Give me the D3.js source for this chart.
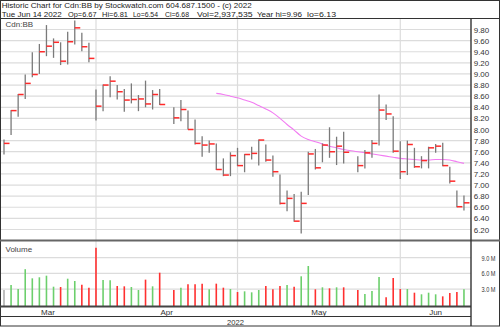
<!DOCTYPE html>
<html>
<head>
<meta charset="utf-8">
<script src="https://cdn.jsdelivr.net/npm/d3@7"></script>
<style>
  body { margin: 0; background: #fff; }
  svg { display: block; font-family: "Liberation Sans", Arial, sans-serif; }
</style>
</head>
<body>
<svg id="canvas" width="500" height="327"></svg>
<script>

// trading window, weekdays only; holidays keep an empty slot
var startDate = "2022-03-15";
var endDate = "2022-06-14";
var holidays = ["2022-04-15", "2022-05-23"];

var highs = [7.82, 8.35, 8.64, 8.99, 9.39, 9.54, 9.88, 9.64, 9.57, 9.76, 9.96, 9.74, 9.56,
  8.72, 8.81, 8.96, 8.80, 8.73, 8.83, 8.62, 8.88, 8.71, 8.73,
  8.40, 8.53, 8.34, 8.18, 7.88, 7.80, 7.75, 7.48, 7.59, 7.67,
  7.56, 7.69, 7.82, 7.73, 7.53, 7.19, 6.90, 6.84, 6.88, 7.60, 7.65, 7.75, 8.04, 7.87, 7.96,
  7.52, 7.63, 7.81, 8.63, 8.45, 8.24,
  7.79, 7.80, 7.67, 7.52, 7.69, 7.74, 7.76, 7.33, 6.90, 6.81];

var lows = [7.55, 7.90, 8.23, 8.55, 8.94, 9.00, 9.32, 9.29, 9.16, 9.17, 9.53, 9.41, 9.21,
  8.16, 8.33, 8.58, 8.54, 8.32, 8.47, 8.33, 8.40, 8.36, 8.44,
  8.10, 8.15, 8.00, 7.73, 7.51, 7.58, 7.27, 7.16, 7.16, 7.34,
  7.23, 7.46, 7.35, 7.42, 7.15, 6.65, 6.53, 6.34, 6.13, 6.82, 7.28, 7.41, 7.49, 7.36, 7.39,
  7.23, 7.30, 7.49, 7.71, 8.17, 7.58,
  7.11, 7.18, 7.31, 7.30, 7.30, 7.58, 7.34, 7.03, 6.60, 6.54];

var closes = [7.75, 8.34, 8.63, 8.83, 8.99, 9.40, 9.50, 9.57, 9.23, 9.58, 9.83, 9.49, 9.28,
  8.42, 8.80, 8.87, 8.68, 8.53, 8.54, 8.55, 8.46, 8.63, 8.45,
  8.21, 8.36, 8.00, 7.75, 7.72, 7.74, 7.28, 7.18, 7.53, 7.35,
  7.55, 7.57, 7.81, 7.45, 7.24, 6.67, 6.76, 6.35, 6.67, 7.56, 7.31, 7.72, 7.60, 7.70, 7.59,
  7.35, 7.58, 7.75, 8.35, 8.28, 7.61,
  7.24, 7.73, 7.33, 7.44, 7.67, 7.70, 7.35, 7.07, 6.61, 6.68];

// volume in millions of shares
var volumes = [2.80, 3.77, 3.00, 6.80, 5.05, 5.25, 5.56, 3.45, 3.39, 4.98, 4.54, 3.83, 3.26,
  10.9, 4.73, 4.67, 3.58, 3.52, 3.39, 2.82, 4.80, 3.52, 6.13,
  2.82, 3.26, 3.90, 3.90, 4.03, 2.95, 4.03, 3.26, 3.00, 2.43,
  2.56, 2.37, 2.82, 3.58, 2.95, 3.58, 3.77, 3.45, 5.44, 7.41, 2.95, 3.33, 3.14, 3.33, 3.33,
  2.82, 2.05, 2.62, 5.30, 1.42, 5.11,
  3.00, 3.00, 2.30, 1.99, 2.30, 1.99, 1.60, 2.24, 2.43, 2.94];

// moving average, starts on this day
var maStart = "2022-04-26";
var maValues = [8.65, 8.63, 8.60, 8.57,
  8.53, 8.49, 8.43, 8.37, 8.30, 8.20, 8.09, 7.99, 7.88, 7.82, 7.78, 7.74, 7.70, 7.67, 7.64,
  7.60, 7.58, 7.56, 7.54, 7.52, 7.50,
  7.48, 7.47, 7.46, 7.45, 7.45, 7.46, 7.46, 7.45, 7.42, 7.39];

var priceTicks = [6.2, 6.4, 6.6, 6.8, 7.0, 7.2, 7.4, 7.6, 7.8, 8.0, 8.2, 8.4, 8.6, 8.8, 9.0, 9.2, 9.4, 9.6, 9.8];
var volumeTicks = [3, 6, 9];
var monthStarts = ["2022-04-01", "2022-05-01", "2022-06-01"];
var monthNames = ["Mar", "Apr", "May", "Jun"];
var yearLabel = "2022";

var symbol = "Cdn:BB";
var titleLine = "Historic Chart for Cdn:BB by Stockwatch.com 604.687.1500 - (c) 2022";
var quoteParts = ["Tue Jun 14 2022", "Op=6.67", "Hi=6.81", "Lo=6.54", "Cl=6.68", "Vol=2,937,535", "Year hi=9.96", "lo=6.13"];

// ---- layout
var W = 500, H = 327;
var plotRight = 471;
var quoteX = [1.7, 68, 102, 133, 165, 197, 257, 307];
var quoteW = [60, 28.5, 26, 25, 24, 55.5, 45, 29];

var fmtDay = d3.timeFormat("%Y-%m-%d");
var parseDay = d3.timeParse("%Y-%m-%d");

var slots = d3.timeDay.range(parseDay(startDate), d3.timeDay.offset(parseDay(endDate), 1))
  .filter(function(d) { return d.getDay() != 0 && d.getDay() != 6; })
  .map(fmtDay);
var tradingDays = slots.filter(function(d) { return holidays.indexOf(d) < 0; });

var bars = tradingDays.map(function(d, i) {
  return {date: d, high: highs[i], low: lows[i], close: closes[i], volume: volumes[i],
    prev: i > 0 ? closes[i - 1] : null};
});
var maIndex = tradingDays.indexOf(maStart);
var ma = maValues.map(function(v, i) { return {date: tradingDays[maIndex + i], value: v}; });

var x = d3.scalePoint().domain(slots).range([0.46, 467.5]).padding(0.5);
var y = d3.scaleLinear().domain([6.0, 10.0]).range([240.6, 18.4]);
var yv = d3.scaleLinear().domain([0, 12.2]).range([304.7, 241]);

var svg = d3.select("#canvas");

// month gridlines fall on the first weekday at or before the 1st
function gridDay(s) {
  var d = parseDay(s);
  while (d.getDay() == 0 || d.getDay() == 6) d = d3.timeDay.offset(d, -1);
  return fmtDay(d);
}
var monthX = monthStarts.map(function(s) { return x(gridDay(s)); });

var grid = svg.append("g").attr("stroke", "#dcdcdc").attr("stroke-width", 1.2);

grid.selectAll(".hp").data(priceTicks).enter().append("line")
  .attr("x1", 0).attr("x2", plotRight)
  .attr("y1", function(d) { return y(d); }).attr("y2", function(d) { return y(d); });

grid.selectAll(".hv").data(volumeTicks).enter().append("line")
  .attr("x1", 0).attr("x2", plotRight)
  .attr("y1", function(d) { return yv(d); }).attr("y2", function(d) { return yv(d); });

grid.selectAll(".vm").data(monthX).enter().append("line")
  .attr("x1", function(d) { return d; }).attr("x2", function(d) { return d; })
  .attr("y1", 19).attr("y2", 306);

// moving average
svg.append("path")
  .datum(ma)
  .attr("fill", "none")
  .attr("stroke", "#f27cf2")
  .attr("stroke-width", 1.1)
  .attr("d", d3.line()
    .x(function(d) { return x(d.date); })
    .y(function(d) { return y(d.value); })
    .curve(d3.curveMonotoneX));

// high-low bars with close tick
var bar = svg.append("g").selectAll("g").data(bars).enter().append("g");

bar.append("line")
  .attr("x1", function(d) { return x(d.date); })
  .attr("x2", function(d) { return x(d.date); })
  .attr("y1", function(d) { return y(d.high); })
  .attr("y2", function(d) { return y(d.low); })
  .attr("stroke", "#7a7a7a")
  .attr("stroke-width", 1.3);

bar.append("line")
  .attr("x1", function(d) { return x(d.date); })
  .attr("x2", function(d) { return x(d.date) + 5.5; })
  .attr("y1", function(d) { return y(d.close); })
  .attr("y2", function(d) { return y(d.close); })
  .attr("stroke", "#ff2a2a")
  .attr("stroke-width", 1.5);

// volume
svg.append("g").selectAll("line").data(bars).enter().append("line")
  .attr("x1", function(d) { return x(d.date); })
  .attr("x2", function(d) { return x(d.date); })
  .attr("y1", 306)
  .attr("y2", function(d) { return yv(d.volume); })
  .attr("stroke-width", 1.6)
  .attr("stroke", function(d) {
    if (d.prev == null) return "#b0b0b0";
    return d.close >= d.prev ? "#6ccf6c" : "#ff3030";
  });

// frame
var frame = svg.append("g").attr("fill", "none");
frame.append("rect").attr("x", 0.5).attr("y", 0.5).attr("width", W - 1).attr("height", H - 1.5)
  .attr("stroke", "#333").attr("stroke-width", 1);
frame.append("line").attr("x1", 0).attr("x2", W).attr("y1", 18.5).attr("y2", 18.5)
  .attr("stroke", "#333").attr("stroke-width", 1);
frame.append("line").attr("x1", 0).attr("x2", W).attr("y1", 240.5).attr("y2", 240.5)
  .attr("stroke", "#666").attr("stroke-width", 2);
frame.append("line").attr("x1", 0).attr("x2", plotRight).attr("y1", 306.5).attr("y2", 306.5)
  .attr("stroke", "#444").attr("stroke-width", 2);
frame.append("line").attr("x1", 0).attr("x2", plotRight).attr("y1", 316.5).attr("y2", 316.5)
  .attr("stroke", "#333").attr("stroke-width", 1);
frame.append("line").attr("x1", plotRight).attr("x2", plotRight).attr("y1", 18.5).attr("y2", 326)
  .attr("stroke", "#333").attr("stroke-width", 1.4);

// header
svg.append("text")
  .attr("x", 1.7).attr("y", 8.4)
  .attr("font-size", 7.8).attr("fill", "#222")
  .attr("textLength", 250).attr("lengthAdjust", "spacingAndGlyphs")
  .text(titleLine);

svg.append("g").selectAll("text").data(quoteParts).enter().append("text")
  .attr("x", function(d, i) { return quoteX[i]; })
  .attr("y", 16.6)
  .attr("font-size", 7.8).attr("fill", "#222")
  .attr("textLength", function(d, i) { return quoteW[i]; })
  .attr("lengthAdjust", "spacingAndGlyphs")
  .text(function(d) { return d; });

// panel labels
svg.append("text").attr("x", 5.5).attr("y", 27.2)
  .attr("font-size", 8).attr("fill", "#444").text(symbol);
svg.append("text").attr("x", 5.5).attr("y", 251.8)
  .attr("font-size", 8).attr("fill", "#444").text("Volume");

// right axes
var priceAxis = svg.append("g")
  .attr("transform", "translate(" + plotRight + ",0)")
  .call(d3.axisRight(y).tickValues(priceTicks).tickSize(0).tickPadding(2.7).tickFormat(d3.format(".2f")));
priceAxis.select(".domain").remove();
priceAxis.selectAll("text").attr("font-size", 8).attr("fill", "#333").attr("font-family", null);

var volAxis = svg.append("g")
  .attr("transform", "translate(" + plotRight + ",0)")
  .call(d3.axisRight(yv).tickValues(volumeTicks).tickSize(0).tickPadding(10.5)
    .tickFormat(function(d) { return d3.format(".1f")(d) + " M"; }));
volAxis.select(".domain").remove();
volAxis.selectAll("text").attr("font-size", 7.6).attr("fill", "#333").attr("font-family", null)
  .attr("textLength", 14).attr("lengthAdjust", "spacingAndGlyphs");

// month labels centred between gridlines
var edges = [0].concat(monthX).concat([plotRight]);
svg.append("g").selectAll("text").data(monthNames).enter().append("text")
  .attr("x", function(d, i) { return (edges[i] + edges[i + 1]) / 2; })
  .attr("y", 314.8)
  .attr("text-anchor", "middle")
  .attr("font-size", 8).attr("fill", "#333")
  .text(function(d) { return d; });

svg.append("text")
  .attr("x", plotRight / 2).attr("y", 324.6)
  .attr("text-anchor", "middle")
  .attr("font-size", 7.6).attr("fill", "#333")
  .text(yearLabel);

</script>
</body>
</html>
